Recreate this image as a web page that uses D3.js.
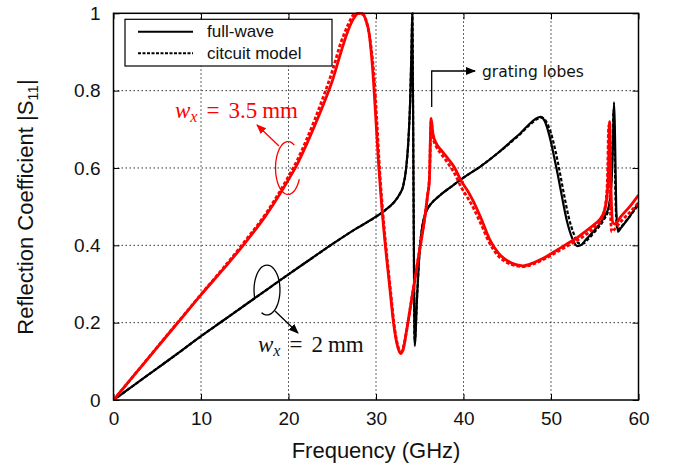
<!DOCTYPE html>
<html>
<head>
<meta charset="utf-8">
<script src="https://cdn.jsdelivr.net/npm/d3@7"></script>
<style>
body{margin:0;background:#fff;}
</style>
</head>
<body>
<svg id="chart" width="675" height="470" font-family="Liberation Sans, Arial, sans-serif"></svg>
<script>
// values, [frequency GHz, |S11|]
var blackFullWave=[[0,0],[2.5,0.041],[5,0.082],[7.5,0.123],[10,0.165],[12.5,0.205],[15,0.245],[17.5,0.285],[20,0.325],[22.5,0.364],[25,0.403],[27.5,0.44],[30,0.474],[31,0.49],[32,0.51],[32.7,0.532],[33.1,0.553],[33.45,0.6],[33.7,0.67],[33.9,0.77],[34.05,0.9],[34.15,1.0],[34.3,0.5],[34.42,0.14],[34.7,0.27],[35.0,0.39],[35.3,0.45],[35.7,0.485],[36.2,0.505],[36.6,0.515],[37.5,0.533],[38.5,0.55],[40,0.575],[42,0.605],[44,0.64],[45.5,0.67],[46.5,0.69],[47.5,0.713],[48.3,0.728],[48.8,0.732],[49.3,0.72],[49.8,0.685],[50.3,0.635],[50.8,0.58],[51.3,0.52],[51.8,0.465],[52.4,0.42],[53.0,0.398],[53.5,0.402],[54,0.415],[55,0.44],[56,0.47],[56.6,0.5],[56.95,0.58],[57.1,0.68],[57.2,0.77],[57.3,0.7],[57.45,0.5],[57.65,0.435],[58,0.445],[59,0.475],[60,0.51]];
var blackCircuit=[[0,0],[2.5,0.041],[5,0.082],[7.5,0.123],[10,0.165],[12.5,0.205],[15,0.245],[17.5,0.285],[20,0.325],[22.5,0.364],[25,0.403],[27.5,0.44],[30,0.474],[31,0.49],[32,0.51],[32.7,0.532],[33.1,0.553],[33.45,0.6],[33.7,0.67],[33.9,0.77],[34.05,0.9],[34.15,1.0],[34.3,0.5],[34.42,0.15],[34.7,0.27],[35.0,0.39],[35.3,0.45],[35.7,0.485],[36.2,0.505],[36.6,0.515],[37.5,0.533],[38.5,0.55],[40,0.575],[42,0.605],[44,0.64],[45.5,0.668],[46.5,0.688],[47.5,0.71],[48.3,0.725],[49.0,0.73],[49.5,0.718],[50.0,0.69],[50.5,0.645],[51.0,0.59],[51.5,0.53],[52.0,0.475],[52.6,0.43],[53.2,0.405],[53.7,0.405],[54.2,0.415],[55,0.435],[56,0.465],[56.6,0.495],[56.9,0.57],[57.05,0.67],[57.15,0.75],[57.25,0.68],[57.4,0.5],[57.6,0.44],[58,0.448],[59,0.475],[60,0.505]];
var redFullWave=[[0,0],[2.5,0.068],[5,0.136],[7.5,0.204],[10,0.272],[12.5,0.337],[15,0.405],[17.5,0.48],[20,0.57],[21,0.61],[22,0.658],[23,0.71],[24,0.765],[25,0.825],[26,0.9],[26.8,0.955],[27.4,0.985],[28,1.0],[28.4,1.0],[28.8,0.985],[29.2,0.95],[29.6,0.86],[30.0,0.72],[30.3,0.61],[30.7,0.49],[31.2,0.37],[31.6,0.285],[32.0,0.2],[32.4,0.145],[32.8,0.12],[33.1,0.13],[33.5,0.18],[34.0,0.25],[34.5,0.32],[35.0,0.39],[35.5,0.46],[35.9,0.53],[36.1,0.57],[36.3,0.728],[36.5,0.69],[36.9,0.663],[37.5,0.645],[38.2,0.625],[39,0.6],[39.7,0.568],[40.5,0.54],[41.1,0.515],[42,0.47],[43,0.415],[44,0.38],[45,0.36],[46,0.35],[46.8,0.347],[48,0.355],[49,0.365],[50,0.378],[51,0.392],[52,0.406],[53,0.42],[54,0.437],[55,0.455],[55.9,0.478],[56.3,0.51],[56.55,0.58],[56.7,0.72],[56.85,0.55],[57.05,0.46],[57.3,0.455],[58,0.475],[59,0.5],[60,0.53]];
var redCircuit=[[0,0],[2.5,0.068],[5,0.137],[7.5,0.205],[10,0.273],[12.5,0.34],[15,0.41],[17.5,0.485],[20,0.578],[21,0.62],[22,0.67],[23,0.725],[24,0.785],[25,0.85],[26,0.925],[26.8,0.97],[27.4,0.995],[28,1.0],[28.6,0.995],[29.0,0.97],[29.4,0.92],[29.8,0.83],[30.1,0.72],[30.4,0.6],[30.8,0.48],[31.3,0.36],[31.7,0.275],[32.1,0.19],[32.5,0.14],[32.8,0.125],[33.1,0.135],[33.5,0.18],[34.0,0.25],[34.5,0.32],[35.0,0.39],[35.5,0.46],[35.9,0.53],[36.1,0.57],[36.3,0.72],[36.5,0.68],[36.9,0.655],[37.5,0.635],[38.2,0.613],[39,0.585],[39.7,0.552],[40.5,0.522],[41.1,0.498],[42,0.455],[43,0.405],[44,0.372],[45,0.355],[46,0.347],[46.8,0.345],[48,0.352],[49,0.362],[50,0.374],[51,0.387],[52,0.4],[53,0.413],[54,0.428],[55,0.447],[55.8,0.47],[56.2,0.5],[56.45,0.57],[56.6,0.71],[56.75,0.52],[56.95,0.435],[57.2,0.44],[58,0.462],[59,0.485],[60,0.51]];

var xTicks=[0,10,20,30,40,50,60];
var yTicks=[0,0.2,0.4,0.6,0.8,1];
var yTickLabels=["0","0.2","0.4","0.6","0.8","1"];
var legendLabels=["full-wave","citcuit model"];

var svg=d3.select("#chart");
var left=113.5,right=638.5,plotTop=13.3,bottom=400;
var x=d3.scaleLinear().domain([0,60]).range([left,right]);
var y=d3.scaleLinear().domain([0,1]).range([bottom,plotTop]);

// grid
var grid=svg.append("g").attr("stroke","#333").attr("stroke-width",1).attr("stroke-dasharray","1.5,2.5");
grid.selectAll("line.gx").data(xTicks.slice(1,-1)).enter().append("line")
    .attr("x1",d=>x(d)).attr("x2",d=>x(d)).attr("y1",plotTop).attr("y2",bottom);
grid.selectAll("line.gy").data(yTicks.slice(1,-1)).enter().append("line")
    .attr("y1",d=>y(d)).attr("y2",d=>y(d)).attr("x1",left).attr("x2",right);

// axes, ticks inward
var xAxis=svg.append("g").attr("transform","translate(0,"+bottom+")")
    .call(d3.axisBottom(x).tickValues(xTicks).tickSize(-6).tickPadding(12).tickFormat(d3.format("d")));
var yAxis=svg.append("g").attr("transform","translate("+left+",0)")
    .call(d3.axisLeft(y).tickValues(yTicks).tickSize(-6).tickPadding(13).tickFormat((d,i)=>yTickLabels[i]));
svg.append("g").attr("transform","translate(0,"+plotTop+")")
    .call(d3.axisTop(x).tickValues(xTicks).tickSize(-6).tickFormat(""));
svg.append("g").attr("transform","translate("+right+",0)")
    .call(d3.axisRight(y).tickValues(yTicks).tickSize(-6).tickFormat(""));
svg.selectAll(".domain").remove();
svg.selectAll(".tick line").attr("stroke","#000");
svg.selectAll(".tick text").attr("font-size",19).attr("fill","#111").attr("font-family","Liberation Sans");

// curves
var line=d3.line().x(d=>x(d[0])).y(d=>y(d[1])).curve(d3.curveMonotoneX);
var defs=svg.append("defs");
defs.append("clipPath").attr("id","clip").append("rect")
    .attr("x",left).attr("y",plotTop-1).attr("width",right-left).attr("height",bottom-plotTop+1);
var curves=svg.append("g").attr("clip-path","url(#clip)").attr("fill","none");
curves.append("path").datum(blackFullWave).attr("d",line).attr("stroke","#000").attr("stroke-width",2.2);
curves.append("path").datum(blackCircuit).attr("d",line).attr("stroke","#000").attr("stroke-width",2.2).attr("stroke-dasharray","3.5,2");
curves.append("path").datum(redFullWave).attr("d",line).attr("stroke","#f00").attr("stroke-width",2.8);
curves.append("path").datum(redCircuit).attr("d",line).attr("stroke","#f00").attr("stroke-width",2.8).attr("stroke-dasharray","3.5,2");

// frame
svg.append("rect").attr("x",left).attr("y",plotTop).attr("width",right-left).attr("height",bottom-plotTop)
    .attr("fill","none").attr("stroke","#000").attr("stroke-width",1.5);

// axis titles
svg.append("text").attr("x",(left+right)/2).attr("y",458).attr("text-anchor","middle")
    .attr("font-size",22).attr("fill","#111").text("Frequency (GHz)");
var yt=svg.append("text").attr("transform","translate(33,207) rotate(-90)").attr("text-anchor","middle")
    .attr("font-size",22).attr("fill","#111");
yt.append("tspan").text("Reflection Coefficient |S");
yt.append("tspan").attr("font-size",15).attr("dy",5).text("11");
yt.append("tspan").attr("dy",-5).text("|");

// legend
var lg=svg.append("g");
lg.append("rect").attr("x",125).attr("y",19.3).attr("width",207).attr("height",46.7)
    .attr("fill","#fff").attr("stroke","#000").attr("stroke-width",1.2);
legendLabels.forEach(function(t,i){
    var ly=31.7+i*21.6;
    lg.append("line").attr("x1",138).attr("x2",193).attr("y1",ly).attr("y2",ly)
        .attr("stroke","#000").attr("stroke-width",2).attr("stroke-dasharray",i==1?"3,1.5":null);
    lg.append("text").attr("x",207).attr("y",ly+5.5).attr("font-size",17).attr("fill","#111").text(t);
});

// arrow markers
["#000","#f00"].forEach(function(c,i){
    defs.append("marker").attr("id","arr"+i).attr("viewBox","0 0 10 10").attr("refX",9).attr("refY",5)
        .attr("markerWidth",10).attr("markerHeight",10).attr("markerUnits","userSpaceOnUse").attr("orient","auto")
        .append("path").attr("d","M0,1 L10,5 L0,9 Z").attr("fill",c);
});

// grating lobes note
svg.append("path").attr("d","M431.7,107 L431.7,71 L475,71").attr("fill","none")
    .attr("stroke","#000").attr("stroke-width",1.3).attr("marker-end","url(#arr0)");
svg.append("text").attr("x",482).attr("y",77.3).attr("font-family","DejaVu Sans").attr("font-size",15.5)
    .attr("fill","#111").text("grating lobes");

// loops round each pair of curves
function loop(cx,cy,rx,ry,a0,a1){
    var pts=d3.range(0,41).map(function(k){
        var a=(a0+(a1-a0)*k/40)*Math.PI/180;
        return [cx+rx*Math.cos(a),cy+ry*Math.sin(a)];
    });
    return d3.line().curve(d3.curveBasis)(pts);
}
svg.append("path").attr("d",loop(288,168,12.5,26.5,-60,-335)).attr("fill","none").attr("stroke","#f00").attr("stroke-width",1.3);
svg.append("path").attr("d","M279,146 L257,125").attr("stroke","#f00").attr("stroke-width",1.3).attr("marker-end","url(#arr1)");
svg.append("path").attr("d",loop(267,290,13,25,115,-200)).attr("fill","none").attr("stroke","#000").attr("stroke-width",1.3);
svg.append("path").attr("d","M275,311 L298,333").attr("stroke","#000").attr("stroke-width",1.3).attr("marker-end","url(#arr0)");

// math labels
function mathLabel(px,py,val,col){
    var t=svg.append("text").attr("x",px).attr("y",py).attr("font-family","Liberation Serif")
        .attr("font-size",23).attr("fill",col);
    t.append("tspan").attr("font-style","italic").text("w");
    t.append("tspan").attr("font-style","italic").attr("font-size",16).attr("dy",4).text("x");
    t.append("tspan").attr("dy",-4).attr("dx",9).text("=");
    t.append("tspan").attr("dx",9).text(val);
    t.append("tspan").attr("dx",5).text("mm");
}
mathLabel(175,118.3,"3.5","#f00");
mathLabel(258,351.7,"2","#111");
</script>
</body>
</html>
